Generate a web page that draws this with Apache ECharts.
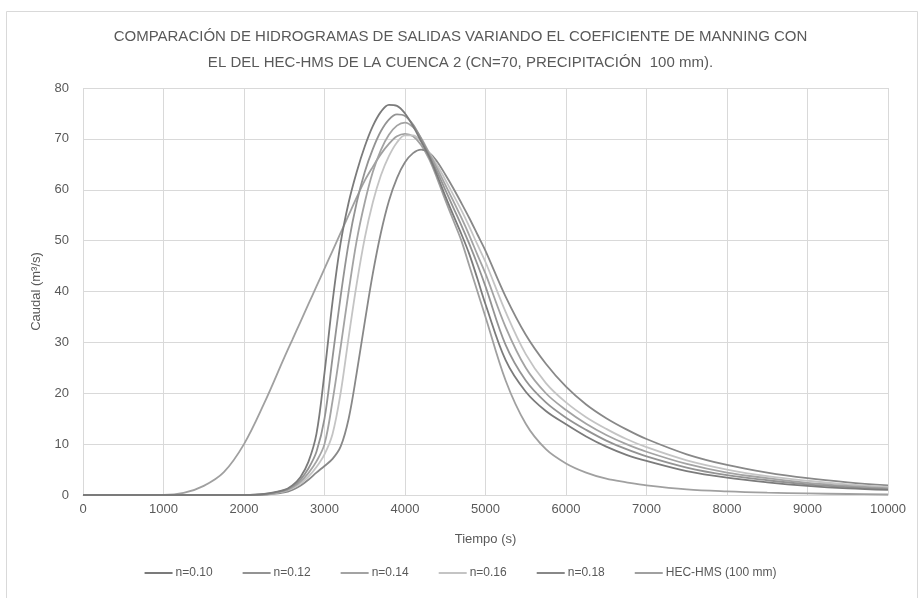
<!DOCTYPE html>
<html>
<head>
<meta charset="utf-8">
<script src="https://cdn.jsdelivr.net/npm/echarts@6/dist/echarts.min.js"></script>
<style>
html,body{margin:0;padding:0;background:#fff;}
#chart{width:921px;height:598px;}
</style>
</head>
<body>
<div id="chart"></div>
<script>
const titleText = "COMPARACIÓN DE HIDROGRAMAS DE SALIDAS VARIANDO EL COEFICIENTE DE MANNING CON\nEL DEL HEC-HMS DE LA CUENCA 2 (CN=70, PRECIPITACIÓN  100 mm).";
const seriesNames = ["n=0.10", "n=0.12", "n=0.14", "n=0.16", "n=0.18", "HEC-HMS (100 mm)"];
const tiempo = [0, 1000, 1250, 1500, 1750, 2000, 2250, 2500, 2600, 2700, 2800, 2900, 3000, 3100, 3200, 3300, 3400, 3500, 3600, 3700, 3800, 3900, 4000, 4100, 4200, 4300, 4400, 4500, 4600, 4700, 4800, 4900, 5000, 5250, 5500, 5750, 6000, 6250, 6500, 6750, 7000, 7500, 8000, 8500, 9000, 9500, 10000];
const q010 = [0, 0, 0, 0, 0, 0, 0.2, 1.0, 1.9, 3.5, 6.5, 12, 24, 38, 49.5, 57.5, 63.5, 68.5, 72.5, 75.3, 76.7, 76.5, 75, 72.5, 69.5, 66.5, 62.8, 58.8, 55, 51.3, 47.3, 42.5, 37.5, 26.5, 20.3, 16.5, 13.9, 11.5, 9.5, 7.9, 6.7, 4.7, 3.4, 2.5, 1.8, 1.3, 1.0];
const q012 = [0, 0, 0, 0, 0, 0, 0.15, 0.9, 1.7, 3.0, 5.2, 8.5, 15, 27, 39, 49.5, 57.5, 63.5, 68, 71.5, 73.8, 74.8, 74.5, 72.8, 70, 66.8, 63.5, 60, 56.5, 53, 49.3, 45.3, 41, 29.5, 22.5, 18.2, 15.2, 12.8, 10.7, 9, 7.6, 5.4, 3.9, 2.9, 2.1, 1.55, 1.15];
const q014 = [0, 0, 0, 0, 0, 0, 0.1, 0.8, 1.5, 2.6, 4.3, 6.6, 10, 18.5, 29, 40, 50, 57.5, 63.5, 67.8, 70.8, 72.6, 73.2, 72.3, 70.2, 67.2, 64.2, 61, 57.8, 54.5, 51, 47.2, 43.5, 33, 25, 20, 16.7, 14, 11.8, 10, 8.5, 6.1, 4.4, 3.3, 2.4, 1.8, 1.35];
const q016 = [0, 0, 0, 0, 0, 0, 0.1, 0.7, 1.3, 2.2, 3.6, 5.5, 8, 12, 20, 31, 41.5, 50.5, 57.5, 62.8, 66.6, 69.3, 70.7, 70.7, 69.5, 67.3, 64.8, 62, 59, 56, 52.7, 49.2, 45.8, 36, 27.7, 22, 18.2, 15.3, 13, 11, 9.4, 6.8, 5, 3.7, 2.8, 2.1, 1.6];
const q018 = [0, 0, 0, 0, 0, 0, 0.05, 0.5, 1, 1.8, 3, 4.4, 5.7, 7.1, 9.5, 15, 24, 34, 43.5, 51.5, 57.8, 62.3, 65.4, 67.2, 67.9, 67.3, 65.5, 63, 60.3, 57.4, 54.4, 51.2, 48, 39, 31.5, 25.8, 21.3, 17.8, 15.1, 12.9, 11, 8, 5.9, 4.4, 3.3, 2.5, 1.9];
const qHms = [0, 0, 0.4, 1.8, 4.5, 10, 18, 27, 30.5, 34, 37.5, 41, 44.5, 48, 51.5, 55, 58.5, 61.8, 64.5, 67, 69, 70.5, 71, 70.5, 68.8, 66, 62.2, 58, 54, 50, 45, 40, 35, 22.5, 14, 9, 6.2, 4.4, 3.2, 2.5, 1.9, 1.1, 0.7, 0.45, 0.3, 0.2, 0.1];
const xTicks = [0, 1000, 2000, 3000, 4000, 5000, 6000, 7000, 8000, 9000, 10000];
const yTicks = [0, 10, 20, 30, 40, 50, 60, 70, 80];

const allQ = [q010, q012, q014, q016, q018, qHms];
const colors = ["#7b7b7b", "#939393", "#a3a3a3", "#c4c4c4", "#888888", "#a0a0a0"];
const FONT = "'Liberation Sans', sans-serif";
const TXT = "#595959";

const chart = echarts.init(document.getElementById('chart'), null, {renderer: 'canvas'});
const option = {
  backgroundColor: '#fff',
  animation: false,
  textStyle: {fontFamily: FONT, color: TXT},
  graphic: [{
    type: 'rect', left: 4, top: 9, shape: {width: 911, height: 587},
    style: {fill: 'none', stroke: '#d9d9d9', lineWidth: 1}, silent: true, z: -1
  }],
  title: {
    text: titleText, left: 'center', top: 19,
    textStyle: {fontFamily: FONT, fontSize: 15, fontWeight: 'normal', color: TXT, lineHeight: 26}
  },
  legend: {
    bottom: 14, left: 'center', itemWidth: 28, itemHeight: 2, itemGap: 30,
    icon: 'rect',
    textStyle: {fontFamily: FONT, fontSize: 12, color: TXT, padding: [0, 0, 0, -2]},
    data: seriesNames
  },
  grid: {left: 83, right: 33, top: 88, bottom: 103, containLabel: false},
  xAxis: {
    type: 'value', min: xTicks[0], max: xTicks[xTicks.length - 1], interval: 1000,
    name: 'Tiempo (s)', nameLocation: 'middle', nameGap: 38,
    nameTextStyle: {fontFamily: FONT, fontSize: 13, color: TXT},
    axisLine: {show: true, lineStyle: {color: '#d9d9d9', width: 1}},
    axisTick: {show: false},
    axisLabel: {fontFamily: FONT, fontSize: 13, color: TXT, margin: 8, formatter: v => String(v)},
    splitLine: {show: true, lineStyle: {color: '#d9d9d9', width: 1}}
  },
  yAxis: {
    type: 'value', min: yTicks[0], max: yTicks[yTicks.length - 1], interval: 10,
    name: 'Caudal (m³/s)', nameLocation: 'middle', nameGap: 40, nameRotate: 90,
    nameTextStyle: {fontFamily: FONT, fontSize: 13, color: TXT},
    axisLine: {show: false}, axisTick: {show: false},
    axisLabel: {fontFamily: FONT, fontSize: 13, color: TXT, margin: 14},
    splitLine: {show: true, lineStyle: {color: '#d9d9d9', width: 1}}
  },
  series: seriesNames.map((name, i) => ({
    name: name, type: 'line', smooth: 0.35, showSymbol: false, symbol: 'none',
    data: tiempo.map((t, k) => [t, allQ[i][k]]),
    lineStyle: {color: colors[i], width: 1.8},
    itemStyle: {color: colors[i]},
    z: 2 + (5 - i)
  }))
};
chart.setOption(option);
</script>
</body>
</html>
